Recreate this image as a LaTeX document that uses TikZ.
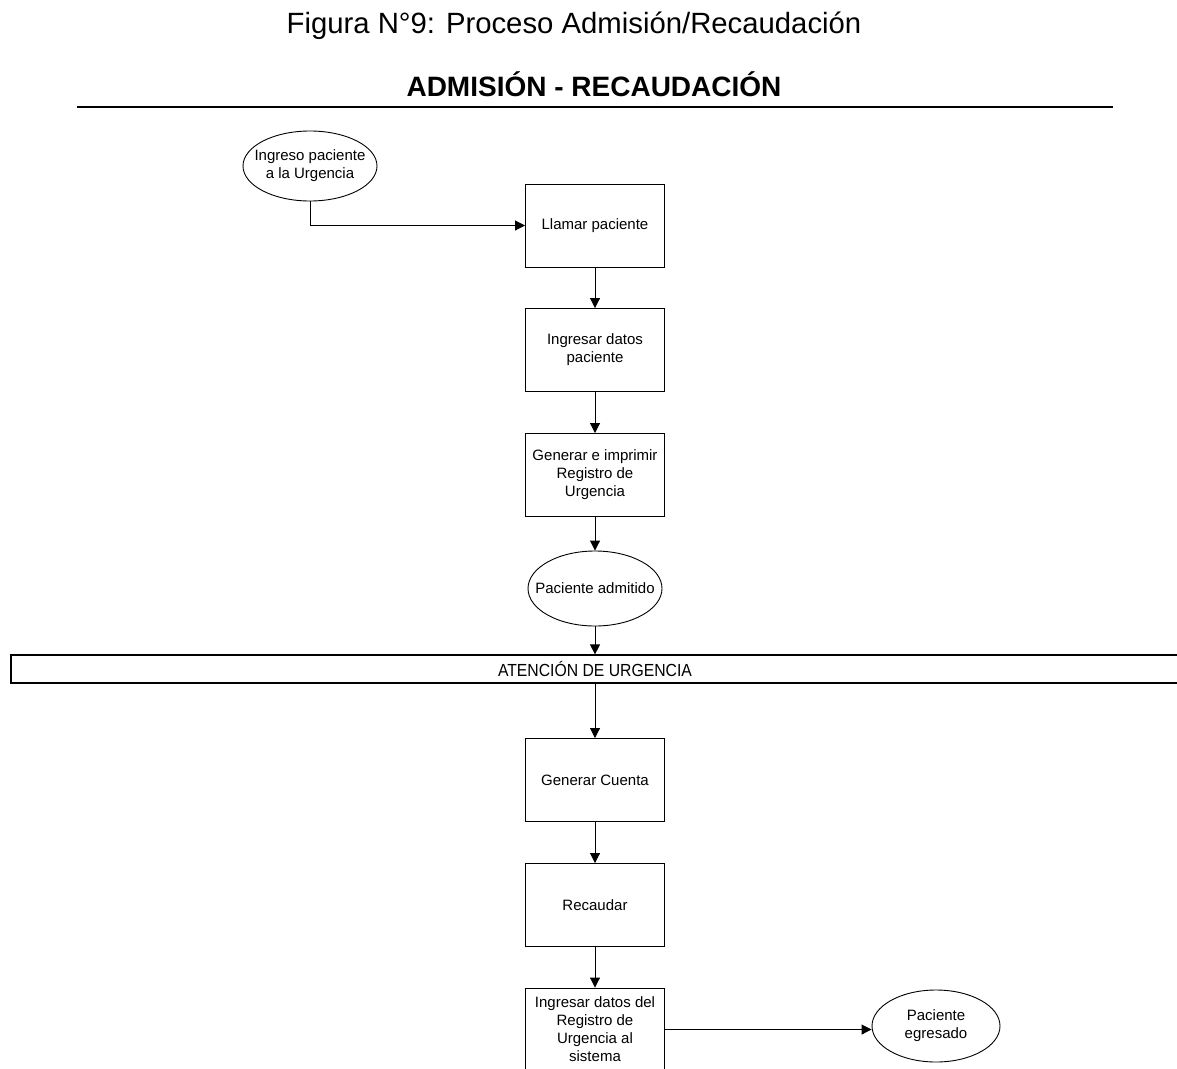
\documentclass[tikz,border=0pt]{standalone}
\usepackage{fontspec}
\setmainfont{Liberation Sans}
\newfontfamily\narrowfont[FakeStretch=0.9]{Liberation Sans}
\usetikzlibrary{shapes.geometric,arrows.meta}

\tikzset{
  label text/.style={inner sep=0pt, align=center, font=\fontsize{15}{18}\selectfont},
  stepbox/.style={draw, line width=0.9pt, rectangle, minimum width=139pt, minimum height=83pt,
    inner sep=1pt, align=center, font=\fontsize{15}{18}\selectfont},
  event/.style={draw, line width=0.9pt, ellipse, inner sep=0pt},
  band/.style={draw, line width=1.2pt, rectangle, minimum width=1168pt, minimum height=28pt,
    inner sep=0pt, font=\narrowfont\fontsize{17.5}{20}\selectfont},
  flow/.style={line width=0.9pt, -{Triangle[length=10pt,width=10pt]}},
}

\begin{document}
\begin{tikzpicture}[x=1pt, y=-1pt]
  \useasboundingbox (0,0) rectangle (1177,1068);
  \clip (0,0) rectangle (1177,1068);

  % titles
  \node (title) at (574,26) {\fontsize{29.3}{32}\selectfont Figura N°9: Proceso Admisión/Recaudación};
  \node (heading) at (594,84) {\fontsize{28}{32}\selectfont\bfseries ADMISIÓN - RECAUDACIÓN};
  \draw[line width=2pt] (77,107) -- (1113,107);

  % admission part
  \node[event, minimum width=134pt, minimum height=70pt] (start) at (310,166) {};
  \node[label text] (starttext) at (start) {Ingreso paciente\\a la Urgencia};
  \node[stepbox] (call) at (595,225.5) {Llamar paciente};
  \node[stepbox] (data) at (595,350) {Ingresar datos\\paciente};
  \node[stepbox] (print) at (595,475) {Generar e imprimir\\Registro de\\Urgencia};
  \node[event, minimum width=134pt, minimum height=75pt] (admitted) at (595,588.5) {};
  \node[label text] (admittedtext) at (admitted) {Paciente admitido};

  % swimlane separator
  \node[band] (care) at (595,669) {ATENCIÓN DE URGENCIA};

  % collection part
  \node[stepbox] (account) at (595,780) {Generar Cuenta};
  \node[stepbox] (collect) at (595,905) {Recaudar};
  \node[stepbox] (record) at (595,1029.5) {Ingresar datos del\\Registro de\\Urgencia al\\sistema};
  \node[event, minimum width=128pt, minimum height=72pt] (discharged) at (936,1026) {};
  \node[label text] (dischargedtext) at (discharged) {Paciente\\egresado};

  % connectors
  \draw[flow] (start.south) |- (call.west);
  \draw[flow] (call) -- (data);
  \draw[flow] (data) -- (print);
  \draw[flow] (print) -- (admitted);
  \draw[flow] (admitted) -- (care.north -| admitted);
  \draw[flow] (care.south -| account) -- (account);
  \draw[flow] (account) -- (collect);
  \draw[flow] (collect) -- (record);
  \draw[flow] (record.east) -- (record.east -| discharged.west);
\end{tikzpicture}
\end{document}
